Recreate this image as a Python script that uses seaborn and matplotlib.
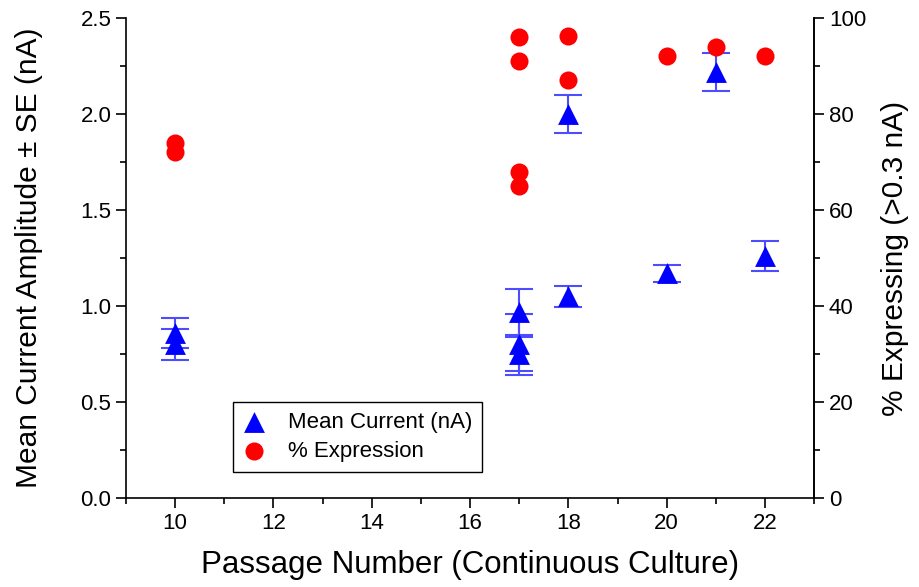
import matplotlib
matplotlib.use("Agg")
import matplotlib.pyplot as plt
from matplotlib.ticker import MultipleLocator
import pandas as pd
import seaborn as sns

# === DATA ===
passage_current = [10, 10, 17, 17, 17, 18, 18, 20, 21, 22]
mean_current = [0.86, 0.80, 0.97, 0.80, 0.75, 2.00, 1.05, 1.17, 2.22, 1.26]
current_se = [0.08, 0.08, 0.12, 0.16, 0.09, 0.10, 0.055, 0.045, 0.10, 0.08]

passage_expr = [10, 10, 17, 17, 17, 17, 18, 18, 20, 21, 22]
pct_expr = [74, 72, 96, 91, 68, 65, 96.3, 87, 92, 94, 92]

current_df = pd.DataFrame({"passage": passage_current, "current": mean_current, "se": current_se})
expr_df = pd.DataFrame({"passage": passage_expr, "pct": pct_expr})

# === STYLE ===
sns.set_style("ticks")
plt.rcParams["font.family"] = ["Liberation Sans", "DejaVu Sans"]
plt.rcParams["axes.linewidth"] = 1.2
plt.rcParams["text.color"] = "black"
plt.rcParams["axes.labelcolor"] = "black"
plt.rcParams["xtick.color"] = "black"
plt.rcParams["ytick.color"] = "black"


def style_ticks(ax):
    ax.tick_params(which="major", direction="out", length=7, width=1.2,
                   labelsize=16, colors="black")
    ax.tick_params(which="minor", direction="out", length=4, width=1.2)


# === PLOT ===
fig = plt.figure(figsize=(9.19, 5.87), dpi=100)
ax = fig.add_axes([0.137, 0.1516, 0.749, 0.8177])
ax2 = ax.twinx()

# error bars first so the markers sit on top
ax.errorbar(current_df["passage"], current_df["current"], yerr=current_df["se"],
            fmt="none", ecolor=(0.3, 0.3, 1.0), elinewidth=1.5, capsize=10,
            capthick=1.5, zorder=1)
sns.scatterplot(data=current_df, x="passage", y="current", ax=ax, marker="^",
                s=15 ** 2, color="#0000ff", edgecolor="#0000ff", linewidth=0,
                zorder=3, label="Mean Current (nA)", legend=False)
sns.scatterplot(data=expr_df, x="passage", y="pct", ax=ax2, marker="o",
                s=13 ** 2, color="#ff0000", edgecolor="#ff0000", linewidth=0,
                zorder=3, label="% Expression", legend=False)

ax.set_xlim(9, 23)
ax.set_ylim(0, 2.5)
ax2.set_ylim(0, 100)

ax.xaxis.set_major_locator(MultipleLocator(2))
ax.xaxis.set_minor_locator(MultipleLocator(1))
ax.yaxis.set_major_locator(MultipleLocator(0.5))
ax.yaxis.set_minor_locator(MultipleLocator(0.25))
ax.yaxis.set_major_formatter(plt.FormatStrFormatter("%.1f"))
ax2.yaxis.set_major_locator(MultipleLocator(20))
ax2.yaxis.set_minor_locator(MultipleLocator(10))

for a in (ax, ax2):
    a.spines["top"].set_visible(False)
    for s in a.spines.values():
        s.set_color("black")
        s.set_linewidth(1.2)
    style_ticks(a)
ax2.spines["left"].set_visible(False)
ax2.spines["bottom"].set_visible(False)

ax.set_xlabel("Passage Number (Continuous Culture)", fontsize=22.5, labelpad=12)
ax.set_ylabel("Mean Current Amplitude ± SE (nA)", fontsize=21.5, labelpad=27)
ax2.set_ylabel("% Expressing (>0.3 nA)", fontsize=21.5, labelpad=11)

# combined legend
h1, l1 = ax.get_legend_handles_labels()
h2, l2 = ax2.get_legend_handles_labels()
leg = ax2.legend(h1 + h2, l1 + l2, loc="lower left", bbox_to_anchor=(0.156, 0.054),
                 borderaxespad=0, fontsize=16, frameon=True, fancybox=False,
                 edgecolor="black", framealpha=1, handlelength=1.0,
                 handletextpad=1.0, borderpad=0.45, labelspacing=0.35)
leg.get_frame().set_linewidth(1.0)

fig.savefig("out.png", dpi=100)
